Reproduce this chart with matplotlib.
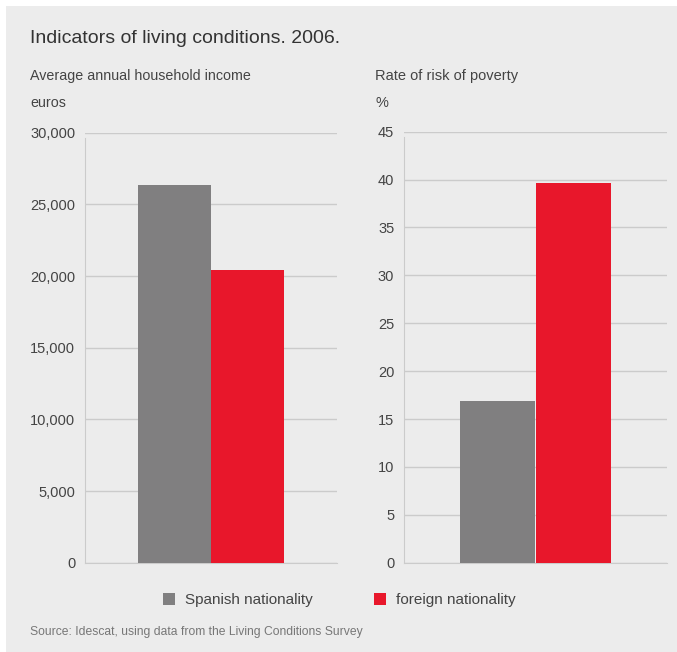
import matplotlib
matplotlib.use("Agg")
import matplotlib.pyplot as plt
from matplotlib.patches import Rectangle
from matplotlib.ticker import FuncFormatter

plt.rcParams["font.family"] = ["Liberation Sans", "DejaVu Sans"]

# Data
groups = ["Spanish nationality", "foreign nationality"]
income = [26350, 20450]          # euros
poverty_rate = [16.9, 39.6]      # %
income_ticks = [0, 5000, 10000, 15000, 20000, 25000, 30000]
poverty_ticks = [0, 5, 10, 15, 20, 25, 30, 35, 40, 45]

colors = ["#807f80", "#e8172b"]
panel_bg = "#ececec"
grid_col = "#cbcbcb"
text_col = "#444444"

W, H = 677, 652
fig = plt.figure(figsize=(W / 100, H / 100), dpi=100, facecolor="white")

# light grey panel behind everything
fig.patches.append(Rectangle((6 / W, 0), 1 - 6 / W, 1 - 6 / H, transform=fig.transFigure,
                             facecolor=panel_bg, edgecolor="none", zorder=-10))


def px_axes(x0, x1, ytop, ybot):
    return fig.add_axes([x0 / W, 1 - ybot / H, (x1 - x0) / W, (ybot - ytop) / H])


def style(ax, ticks, fmt, spine_top):
    ax.set_facecolor("none")
    ax.set_xlim(-1, 1)
    ax.set_ylim(ticks[0], ticks[-1])
    ax.set_yticks(ticks)
    ax.yaxis.set_major_formatter(FuncFormatter(fmt))
    ax.set_xticks([])
    ax.tick_params(axis="y", length=0, pad=7, labelsize=10.5, labelcolor=text_col)
    ax.grid(axis="y", color=grid_col, linewidth=1.0)
    ax.set_axisbelow(True)
    for s in ("top", "right"):
        ax.spines[s].set_visible(False)
    ax.spines["left"].set_color(grid_col)
    ax.spines["left"].set_bounds(ticks[0], spine_top)
    ax.spines["bottom"].set_color(grid_col)


bar_w = 0.58
offsets = [-bar_w / 2, bar_w / 2]

ax1 = px_axes(85, 337, 132.7, 562.7)
bars = []
for off, val, c, lab in zip(offsets, income, colors, groups):
    bars.append(ax1.bar(off, val, width=bar_w, color=c, label=lab, zorder=3))
style(ax1, income_ticks, lambda v, p: f"{int(v):,}", 29600)

ax2 = px_axes(404, 667, 131.7, 562.7)
for off, val, c in zip(offsets, poverty_rate, colors):
    ax2.bar(off, val, width=0.565, color=c, zorder=3)
style(ax2, poverty_ticks, lambda v, p: f"{int(v)}", 44.4)


def ftext(x, y, s, color=text_col, **kw):
    fig.text(x / W, 1 - y / H, s, va="baseline", ha="left", color=color, **kw)


ftext(30, 43, "Indicators of living conditions. 2006.", fontsize=14, color="#333333")
ftext(30, 80, "Average annual household income", fontsize=10.3)
ftext(30, 107, "euros", fontsize=10.3)
ftext(375, 80, "Rate of risk of poverty", fontsize=10.5)
ftext(375, 107, "%", fontsize=10.5)
ftext(30, 635, "Source: Idescat, using data from the Living Conditions Survey",
      fontsize=8.7, color="#777777")

fs = 11
fig.legend(handles=bars, labels=groups, loc="center left",
           bbox_to_anchor=(163 / W, 1 - 600 / H), ncol=2, frameon=False,
           fontsize=fs, labelcolor=text_col, borderpad=0, borderaxespad=0,
           handlelength=0.8, handleheight=0.8, handletextpad=0.65,
           columnspacing=4.0)

fig.savefig("out.png", dpi=100, facecolor="white")
